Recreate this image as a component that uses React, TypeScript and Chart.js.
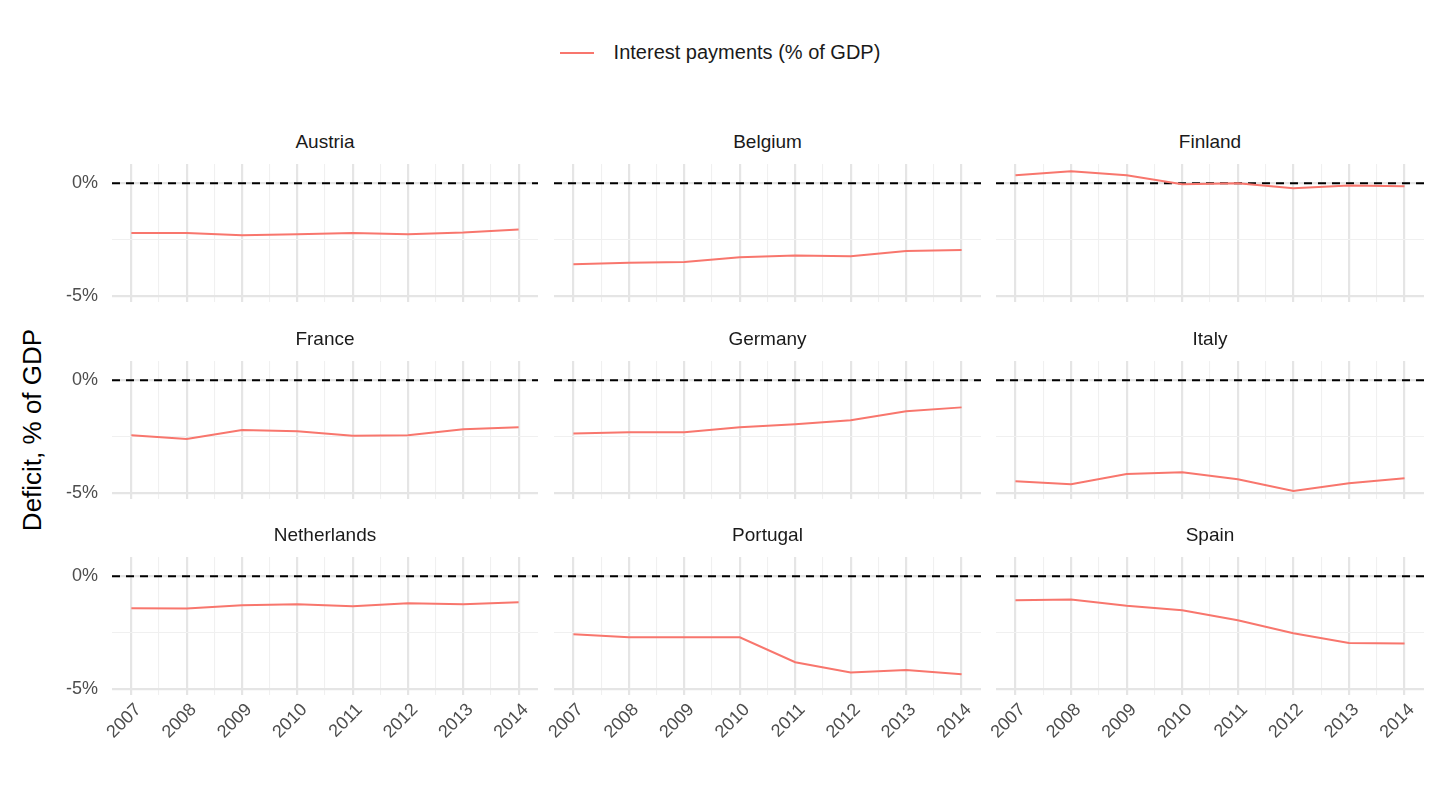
import React, { useEffect, useRef } from "react";
import { Chart, registerables } from "chart.js";
Chart.register(...registerables);

const years = [2007, 2008, 2009, 2010, 2011, 2012, 2013, 2014];
const countries = ["Austria", "Belgium", "Finland", "France", "Germany", "Italy", "Netherlands", "Portugal", "Spain"];
const austria = [-2.2, -2.2, -2.3, -2.25, -2.2, -2.25, -2.18, -2.04];
const belgium = [-3.58, -3.51, -3.48, -3.27, -3.2, -3.23, -3.0, -2.95];
const finland = [0.35, 0.53, 0.35, -0.05, 0.0, -0.22, -0.1, -0.13];
const france = [-2.43, -2.6, -2.2, -2.26, -2.45, -2.43, -2.17, -2.08];
const germany = [-2.35, -2.3, -2.3, -2.08, -1.95, -1.77, -1.37, -1.2];
const italy = [-4.47, -4.6, -4.15, -4.07, -4.38, -4.9, -4.55, -4.33];
const netherlands = [-1.42, -1.43, -1.28, -1.24, -1.33, -1.19, -1.24, -1.15];
const portugal = [-2.57, -2.7, -2.7, -2.7, -3.8, -4.25, -4.15, -4.33];
const spain = [-1.06, -1.03, -1.3, -1.5, -1.95, -2.52, -2.95, -2.97];
const series = [austria, belgium, finland, france, germany, italy, netherlands, portugal, spain];
const yTickLabels = [0, -5];
const seriesLabel = "Interest payments (% of GDP)";

const COLOR = "#F8766D";
const FONT = "Liberation Sans, Arial, sans-serif";
const colLeft = [112, 554, 996];
const colW = [426, 427, 428];
const rowTop = [164, 361, 557];
const rowH = 138;
const PL = 110, PR = 5, PT = 5, PB = 75;

function Panel({ idx }: { idx: number }) {
  const ref = useRef<HTMLCanvasElement>(null);
  const col = idx % 3, row = Math.floor(idx / 3);
  useEffect(() => {
    const showY = col === 0, showX = row === 2;
    const labels = {
      id: "labels" + idx,
      beforeDatasetsDraw(chart: any) {
        const { ctx, chartArea } = chart;
        const y = chart.scales.y;
        ctx.save();
        ctx.strokeStyle = "#000";
        ctx.lineWidth = 2;
        ctx.setLineDash([8, 6]);
        const py = y.getPixelForValue(0);
        ctx.beginPath();
        ctx.moveTo(chartArea.left, py);
        ctx.lineTo(chartArea.right, py);
        ctx.stroke();
        ctx.restore();
      },
      afterDraw(chart: any) {
        const { ctx, chartArea } = chart;
        const x = chart.scales.x, y = chart.scales.y;
        ctx.save();
        ctx.fillStyle = "#4d4d4d";
        ctx.font = `18px ${FONT}`;
        if (showY) {
          ctx.textAlign = "right";
          ctx.textBaseline = "middle";
          yTickLabels.forEach((v) => ctx.fillText(v + "%", chartArea.left - 14, y.getPixelForValue(v)));
        }
        if (showX) {
          ctx.textAlign = "right";
          ctx.textBaseline = "middle";
          years.forEach((yr) => {
            ctx.save();
            ctx.translate(x.getPixelForValue(yr) + 7, chartArea.bottom + 12);
            ctx.rotate(-Math.PI / 4);
            ctx.fillText(String(yr), 0, 0);
            ctx.restore();
          });
        }
        ctx.restore();
      },
    };
    const chart = new Chart(ref.current!, {
      type: "line",
      data: {
        datasets: [{
          data: years.map((yr, i) => ({ x: yr, y: series[idx][i] })),
          borderColor: COLOR, borderWidth: 2, pointRadius: 0, tension: 0,
        }],
      },
      options: {
        animation: false, responsive: false,
        layout: { padding: { left: PL, right: PR, top: PT, bottom: PB } },
        plugins: { legend: { display: false }, tooltip: { enabled: false } },
        scales: {
          x: {
            type: "linear", min: 2006.65, max: 2014.35,
            border: { display: false },
            ticks: { display: false, stepSize: 0.5, includeBounds: false },
            grid: { drawTicks: false, color: (c: any) => (Number.isInteger(c.tick?.value) ? "#e5e5e5" : "#f0f0f0"), lineWidth: (c: any) => (Number.isInteger(c.tick?.value) ? 2.2 : 1.1) },
          },
          y: {
            min: -5.25, max: 0.85,
            border: { display: false },
            ticks: { display: false, stepSize: 2.5, includeBounds: false },
            grid: { drawTicks: false, color: (c: any) => (c.tick && c.tick.value % 5 === 0 ? "#e5e5e5" : "#f0f0f0"), lineWidth: (c: any) => (c.tick && c.tick.value % 5 === 0 ? 2.2 : 1.1) },
          },
        },
      },
      plugins: [labels],
    } as any);
    return () => chart.destroy();
  }, []);
  const w = colW[col] + PL + PR, h = rowH + PT + PB;
  return (
    <>
      <div style={{ position: "absolute", left: colLeft[col], top: rowTop[row] - 33, width: colW[col], textAlign: "center", fontSize: 19, color: "#1a1a1a", fontFamily: FONT }}>
        {countries[idx]}
      </div>
      <canvas ref={ref} width={w} height={h} style={{ position: "absolute", left: colLeft[col] - PL, top: rowTop[row] - PT, width: w, height: h }} />
    </>
  );
}

export default function App() {
  return (
    <div style={{ position: "fixed", left: 0, top: 0, width: 1440, height: 810, background: "#fff", fontFamily: FONT }}>
      <div style={{ position: "absolute", top: 41, left: 0, width: 1440, display: "flex", justifyContent: "center", alignItems: "center", fontSize: 20, color: "#1a1a1a" }}>
        <span style={{ display: "inline-block", width: 34, height: 2, background: COLOR, marginRight: 20 }} />
        <span>{seriesLabel}</span>
      </div>
      <div style={{ position: "absolute", left: 32, top: 430, transform: "translate(-50%,-50%) rotate(-90deg)", fontSize: 26, color: "#000", whiteSpace: "nowrap" }}>
        Deficit, % of GDP
      </div>
      {countries.map((_, i) => <Panel key={i} idx={i} />)}
    </div>
  );
}
